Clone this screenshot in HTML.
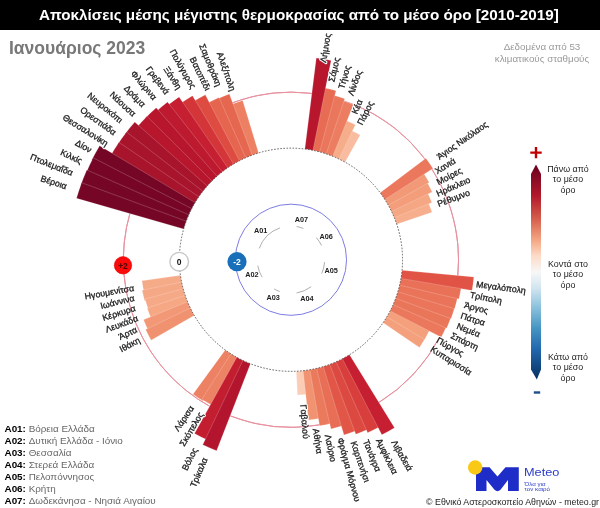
<!DOCTYPE html>
<html lang="el"><head><meta charset="utf-8"><title>Αποκλίσεις μέσης μέγιστης θερμοκρασίας</title>
<style>
html,body{margin:0;padding:0;background:#fff}
body{width:600px;height:508px;position:relative;overflow:hidden;font-family:"Liberation Sans","DejaVu Sans",sans-serif}
svg text{font-family:"Liberation Sans","DejaVu Sans",sans-serif}
.bar{position:absolute;left:0;top:0;width:600px;height:30px;background:#000}
.title{position:absolute;left:39px;top:0;height:30px;line-height:30.5px;color:#fff;font-weight:bold;font-size:14.1px;white-space:nowrap;transform-origin:0 0;transform:scaleX(1.082)}
.month{position:absolute;left:9px;top:36px;font-size:17.5px;font-weight:bold;color:#787878;white-space:nowrap;line-height:24px}
.src{position:absolute;left:482px;top:40.6px;width:120px;text-align:center;font-size:9.8px;line-height:12.2px;color:#9a9a9a}
.lt{position:absolute;width:80px;text-align:center;font-size:8.9px;line-height:10.4px;color:#222}
.leg{position:absolute;left:4.5px;top:423px;font-size:9.9px;line-height:12px;color:#666;white-space:nowrap}
.leg b{color:#000}
.copy{position:absolute;right:1px;top:496.3px;font-size:8.8px;line-height:12px;color:#222;white-space:nowrap}
.meteo{position:absolute;left:523.8px;top:463.6px;font-size:11.7px;line-height:16px;color:#2a3cc8;transform-origin:0 0;transform:scaleX(1.09)}
.tag{position:absolute;left:524.5px;top:480.6px;font-size:6.2px;line-height:5.5px;color:#2a3cc8;white-space:nowrap}
</style></head><body>
<div class="bar"></div>
<div class="title">Αποκλίσεις μέσης μέγιστης θερμοκρασίας από το μέσο όρο [2010-2019]</div>
<div class="month">Ιανουάριος 2023</div>
<div class="src">Δεδομένα από 53<br>κλιματικούς σταθμούς</div>
<svg width="600" height="508" viewBox="0 0 600 508" style="position:absolute;left:0;top:0"><circle cx="290.95" cy="259.75" r="167.6" fill="none" stroke="#e8919f" stroke-width="1"/><circle cx="290.95" cy="259.75" r="55.599999999999994" fill="none" stroke="#7d7de3" stroke-width="1"/><g stroke="#ffffff" stroke-opacity="0.22" stroke-width="0.9" stroke-linejoin="round"><path d="M337.77 158.45L350.81 130.23A142.68 142.68 0 0 1 360.20 135.00L345.11 162.18A111.60 111.60 0 0 0 337.77 158.45Z" fill="#f9bca0"/><path d="M331.45 155.76L345.26 120.27A149.68 149.68 0 0 1 355.40 124.66L339.01 159.03A111.60 111.60 0 0 0 331.45 155.76Z" fill="#f6ad8a"/><path d="M324.97 153.46L341.95 100.39A167.32 167.32 0 0 1 353.57 104.59L332.71 156.26A111.60 111.60 0 0 0 324.97 153.46Z" fill="#ec7d60"/><path d="M318.36 151.57L332.66 95.11A169.84 169.84 0 0 1 344.69 98.64L326.26 153.88A111.60 111.60 0 0 0 318.36 151.57Z" fill="#ea765b"/><path d="M311.65 150.09L323.41 87.77A175.02 175.02 0 0 1 336.01 90.63L319.68 151.91A111.60 111.60 0 0 0 311.65 150.09Z" fill="#e76c53"/><path d="M304.86 149.02L316.29 58.03A203.30 203.30 0 0 1 331.09 60.45L312.99 150.35A111.60 111.60 0 0 0 304.86 149.02Z" fill="#b7162d"/><path d="M393.80 216.43L428.12 201.97A148.84 148.84 0 0 1 432.01 212.25L396.71 224.13A111.60 111.60 0 0 0 393.80 216.43Z" fill="#f7ae8d"/><path d="M390.94 210.18L427.31 192.15A152.20 152.20 0 0 1 431.93 202.39L394.32 217.69A111.60 111.60 0 0 0 390.94 210.18Z" fill="#f5a784"/><path d="M387.70 204.12L426.78 181.65A156.68 156.68 0 0 1 432.17 191.88L391.54 211.41A111.60 111.60 0 0 0 387.70 204.12Z" fill="#f39d7b"/><path d="M384.09 198.27L423.11 172.51A158.36 158.36 0 0 1 429.19 182.49L388.37 205.30A111.60 111.60 0 0 0 384.09 198.27Z" fill="#f29a78"/><path d="M380.13 192.65L425.90 158.21A168.89 168.89 0 0 1 433.02 168.44L384.83 199.41A111.60 111.60 0 0 0 380.13 192.65Z" fill="#eb785c"/><path d="M387.50 315.72L425.53 337.77A155.56 155.56 0 0 1 419.41 347.48L383.11 322.69A111.60 111.60 0 0 0 387.50 315.72Z" fill="#f4a07d"/><path d="M390.76 309.67L430.08 329.33A155.56 155.56 0 0 1 424.57 339.40L386.81 316.89A111.60 111.60 0 0 0 390.76 309.67Z" fill="#f4a07d"/><path d="M393.65 303.43L446.60 325.95A169.14 169.14 0 0 1 441.29 337.25L390.15 310.88A111.60 111.60 0 0 0 393.65 303.43Z" fill="#eb785c"/><path d="M396.14 297.02L451.30 316.57A170.12 170.12 0 0 1 446.67 328.24L393.11 304.68A111.60 111.60 0 0 0 396.14 297.02Z" fill="#ea765a"/><path d="M398.24 290.48L454.90 306.71A170.54 170.54 0 0 1 450.99 318.67L395.68 298.31A111.60 111.60 0 0 0 398.24 290.48Z" fill="#ea755a"/><path d="M399.92 283.82L457.75 296.59A170.82 170.82 0 0 1 454.58 308.79L397.85 291.79A111.60 111.60 0 0 0 399.92 283.82Z" fill="#ea7459"/><path d="M401.20 277.06L461.36 286.51A172.50 172.50 0 0 1 458.92 299.00L399.62 285.14A111.60 111.60 0 0 0 401.20 277.06Z" fill="#e97157"/><path d="M402.06 270.24L473.84 277.02A183.70 183.70 0 0 1 472.06 290.46L400.98 278.41A111.60 111.60 0 0 0 402.06 270.24Z" fill="#e05345"/><path d="M304.47 370.53L307.35 394.15A135.40 135.40 0 0 1 297.40 395.00L296.26 371.22A111.60 111.60 0 0 0 304.47 370.53Z" fill="#fbcdb6"/><path d="M311.26 369.49L320.29 418.22A161.16 161.16 0 0 1 308.52 419.95L303.12 370.68A111.60 111.60 0 0 0 311.26 369.49Z" fill="#f19271"/><path d="M317.98 368.03L331.75 423.17A168.44 168.44 0 0 1 319.59 425.74L309.92 369.73A111.60 111.60 0 0 0 317.98 368.03Z" fill="#eb7a5d"/><path d="M324.60 366.16L343.38 425.56A173.90 173.90 0 0 1 331.01 428.97L316.66 368.35A111.60 111.60 0 0 0 324.60 366.16Z" fill="#e86e55"/><path d="M331.08 363.88L356.76 430.51A183.00 183.00 0 0 1 343.99 434.90L323.29 366.56A111.60 111.60 0 0 0 331.08 363.88Z" fill="#e15646"/><path d="M337.42 361.22L368.49 429.06A186.22 186.22 0 0 1 355.79 434.32L329.81 364.37A111.60 111.60 0 0 0 337.42 361.22Z" fill="#dc4941"/><path d="M343.58 358.16L380.15 426.56A189.16 189.16 0 0 1 367.60 432.68L336.17 361.78A111.60 111.60 0 0 0 343.58 358.16Z" fill="#d83e3c"/><path d="M349.53 354.74L394.51 427.66A197.28 197.28 0 0 1 381.85 434.84L342.37 358.80A111.60 111.60 0 0 0 349.53 354.74Z" fill="#c61f31"/><path d="M232.03 354.53L203.14 401.02A166.34 166.34 0 0 1 192.96 394.16L225.20 349.93A111.60 111.60 0 0 0 232.03 354.53Z" fill="#ed8163"/><path d="M237.98 357.98L212.33 405.54A165.64 165.64 0 0 1 201.79 399.35L230.88 353.80A111.60 111.60 0 0 0 237.98 357.98Z" fill="#ed8365"/><path d="M244.13 361.05L207.59 440.10A198.68 198.68 0 0 1 194.52 433.46L236.79 357.32A111.60 111.60 0 0 0 244.13 361.05Z" fill="#c31d30"/><path d="M250.45 363.74L216.62 450.63A204.84 204.84 0 0 1 202.75 444.63L242.89 360.47A111.60 111.60 0 0 0 250.45 363.74Z" fill="#b2152d"/><path d="M181.89 283.43L143.86 291.69A150.52 150.52 0 0 1 141.90 280.76L180.44 275.33A111.60 111.60 0 0 0 181.89 283.43Z" fill="#f6ab88"/><path d="M183.56 290.10L144.76 301.07A151.92 151.92 0 0 1 142.11 290.18L181.61 282.10A111.60 111.60 0 0 0 183.56 290.10Z" fill="#f5a885"/><path d="M185.63 296.66L148.37 309.71A151.08 151.08 0 0 1 145.07 299.06L183.19 288.79A111.60 111.60 0 0 0 185.63 296.66Z" fill="#f6a986"/><path d="M188.10 303.07L151.20 318.61A151.64 151.64 0 0 1 147.24 308.15L185.19 295.37A111.60 111.60 0 0 0 188.10 303.07Z" fill="#f6a885"/><path d="M190.96 309.32L148.32 330.46A159.20 159.20 0 0 1 143.49 319.75L187.58 301.81A111.60 111.60 0 0 0 190.96 309.32Z" fill="#f29876"/><path d="M194.20 315.38L151.12 340.16A161.30 161.30 0 0 1 145.57 329.62L190.36 308.09A111.60 111.60 0 0 0 194.20 315.38Z" fill="#f09170"/><path d="M250.82 155.62L231.08 104.41A166.48 166.48 0 0 1 242.70 100.42L258.61 152.94A111.60 111.60 0 0 0 250.82 155.62Z" fill="#ed8063"/><path d="M244.48 158.28L217.32 98.97A176.84 176.84 0 0 1 229.38 93.98L252.09 155.13A111.60 111.60 0 0 0 244.48 158.28Z" fill="#e66750"/><path d="M238.32 161.34L207.30 103.31A177.40 177.40 0 0 1 219.06 97.57L245.73 157.72A111.60 111.60 0 0 0 238.32 161.34Z" fill="#e5654f"/><path d="M232.37 164.76L193.41 101.61A185.80 185.80 0 0 1 205.34 94.85L239.53 160.70A111.60 111.60 0 0 0 232.37 164.76Z" fill="#dd4b41"/><path d="M226.63 168.55L180.64 103.34A191.40 191.40 0 0 1 192.47 95.63L233.53 164.05A111.60 111.60 0 0 0 226.63 168.55Z" fill="#d33539"/><path d="M221.14 172.68L167.36 105.62A197.56 197.56 0 0 1 179.07 96.92L227.75 167.77A111.60 111.60 0 0 0 221.14 172.68Z" fill="#c61f31"/><path d="M215.91 177.15L156.23 111.45A200.36 200.36 0 0 1 167.53 101.91L222.21 171.84A111.60 111.60 0 0 0 215.91 177.15Z" fill="#be1a2f"/><path d="M210.97 181.92L145.35 118.07A203.16 203.16 0 0 1 156.19 107.72L216.92 176.23A111.60 111.60 0 0 0 210.97 181.92Z" fill="#b7162d"/><path d="M206.33 186.99L136.90 127.30A203.16 203.16 0 0 1 147.09 116.30L211.92 180.95A111.60 111.60 0 0 0 206.33 186.99Z" fill="#b7162d"/><path d="M202.01 192.34L125.02 133.99A208.20 208.20 0 0 1 134.75 122.10L207.22 185.96A111.60 111.60 0 0 0 202.01 192.34Z" fill="#a8142c"/><path d="M198.03 197.94L117.59 144.44A208.20 208.20 0 0 1 126.57 131.97L202.84 191.26A111.60 111.60 0 0 0 198.03 197.94Z" fill="#a8142c"/><path d="M194.40 203.78L110.83 155.34A208.20 208.20 0 0 1 119.02 142.34L198.79 196.81A111.60 111.60 0 0 0 194.40 203.78Z" fill="#a8142c"/><path d="M191.14 209.83L91.72 160.11A222.76 222.76 0 0 1 99.61 145.69L195.09 202.61A111.60 111.60 0 0 0 191.14 209.83Z" fill="#760626"/><path d="M188.25 216.07L86.22 172.67A222.48 222.48 0 0 1 93.20 157.81L191.75 208.62A111.60 111.60 0 0 0 188.25 216.07Z" fill="#770626"/><path d="M185.76 222.48L80.72 185.25A223.04 223.04 0 0 1 86.79 169.95L188.79 214.82A111.60 111.60 0 0 0 185.76 222.48Z" fill="#750626"/><path d="M183.66 229.02L76.53 198.34A223.04 223.04 0 0 1 81.64 182.69L186.22 221.19A111.60 111.60 0 0 0 183.66 229.02Z" fill="#750626"/></g><circle cx="290.95" cy="259.75" r="111.6" fill="none" stroke="#333" stroke-width="0.75" stroke-dasharray="1.6 1.5"/><path d="M259.22 248.39A33.7 33.7 0 0 1 279.98 227.89" fill="none" stroke="#9a9a9a" stroke-width="0.8"/><text x="260.70" y="230.30" text-anchor="middle" dominant-baseline="central" font-size="7.3" font-weight="bold" fill="#222">A01</text><path d="M296.63 226.53A33.7 33.7 0 0 1 303.36 228.42" fill="none" stroke="#9a9a9a" stroke-width="0.8"/><text x="301.50" y="219.30" text-anchor="middle" dominant-baseline="central" font-size="7.3" font-weight="bold" fill="#222">A07</text><path d="M316.31 237.55A33.7 33.7 0 0 1 321.52 245.56" fill="none" stroke="#9a9a9a" stroke-width="0.8"/><text x="326.10" y="236.60" text-anchor="middle" dominant-baseline="central" font-size="7.3" font-weight="bold" fill="#222">A06</text><path d="M324.56 262.16A33.7 33.7 0 0 1 321.71 273.51" fill="none" stroke="#9a9a9a" stroke-width="0.8"/><text x="331.20" y="270.00" text-anchor="middle" dominant-baseline="central" font-size="7.3" font-weight="bold" fill="#222">A05</text><path d="M311.18 286.70A33.7 33.7 0 0 1 296.57 292.98" fill="none" stroke="#9a9a9a" stroke-width="0.8"/><text x="307.00" y="298.00" text-anchor="middle" dominant-baseline="central" font-size="7.3" font-weight="bold" fill="#222">A04</text><path d="M279.76 291.54A33.7 33.7 0 0 1 274.15 288.96" fill="none" stroke="#9a9a9a" stroke-width="0.8"/><text x="273.10" y="297.00" text-anchor="middle" dominant-baseline="central" font-size="7.3" font-weight="bold" fill="#222">A03</text><path d="M262.09 277.16A33.7 33.7 0 0 1 257.76 265.60" fill="none" stroke="#9a9a9a" stroke-width="0.8"/><text x="251.90" y="274.00" text-anchor="middle" dominant-baseline="central" font-size="7.3" font-weight="bold" fill="#222">A02</text><g font-size="8.85" fill="#fff" stroke="#fff" stroke-width="2.4" stroke-linejoin="round"><text x="323.15" y="62.56" text-anchor="start" dominant-baseline="central" transform="rotate(-80.73 323.15 62.56)">Λήμνος</text><text x="331.40" y="81.77" text-anchor="start" dominant-baseline="central" transform="rotate(-77.20 331.40 81.77)">Σάμος</text><text x="341.10" y="88.61" text-anchor="start" dominant-baseline="central" transform="rotate(-73.67 341.10 88.61)">Τήνος</text><text x="350.35" y="95.33" text-anchor="start" dominant-baseline="central" transform="rotate(-70.14 350.35 95.33)">Λίνδος</text><text x="354.15" y="113.65" text-anchor="start" dominant-baseline="central" transform="rotate(-66.61 354.15 113.65)">Κέα</text><text x="359.62" y="124.51" text-anchor="start" dominant-baseline="central" transform="rotate(-63.08 359.62 124.51)">Πάρος</text><text x="437.77" y="157.54" text-anchor="start" dominant-baseline="central" transform="rotate(-34.84 437.77 157.54)">Άγιος Νικόλαος</text><text x="435.64" y="171.73" text-anchor="start" dominant-baseline="central" transform="rotate(-31.31 435.64 171.73)">Χανιά</text><text x="437.17" y="182.70" text-anchor="start" dominant-baseline="central" transform="rotate(-27.79 437.17 182.70)">Μοίρες</text><text x="436.73" y="194.06" text-anchor="start" dominant-baseline="central" transform="rotate(-24.26 436.73 194.06)">Ηράκλειο</text><text x="437.73" y="204.21" text-anchor="start" dominant-baseline="central" transform="rotate(-20.73 437.73 204.21)">Ρέθυμνο</text><text x="476.25" y="284.17" text-anchor="start" dominant-baseline="central" transform="rotate(7.51 476.25 284.17)">Μεγαλόπολη</text><text x="470.07" y="294.69" text-anchor="start" dominant-baseline="central" transform="rotate(11.04 470.07 294.69)">Τρίπολη</text><text x="464.41" y="304.83" text-anchor="start" dominant-baseline="central" transform="rotate(14.57 464.41 304.83)">Άργος</text><text x="460.94" y="315.30" text-anchor="start" dominant-baseline="central" transform="rotate(18.10 460.94 315.30)">Πάτρα</text><text x="457.09" y="325.62" text-anchor="start" dominant-baseline="central" transform="rotate(21.63 457.09 325.62)">Νεμέα</text><text x="451.29" y="335.05" text-anchor="start" dominant-baseline="central" transform="rotate(25.16 451.29 335.05)">Σπάρτη</text><text x="437.07" y="339.70" text-anchor="start" dominant-baseline="central" transform="rotate(28.69 437.07 339.70)">Πύργος</text><text x="431.36" y="348.22" text-anchor="start" dominant-baseline="central" transform="rotate(32.21 431.36 348.22)">Κυπαρισσία</text><text x="393.57" y="440.76" text-anchor="start" dominant-baseline="central" transform="rotate(60.45 393.57 440.76)">Λιβαδειά</text><text x="378.41" y="438.90" text-anchor="start" dominant-baseline="central" transform="rotate(63.98 378.41 438.90)">Αμφίκλεια</text><text x="365.63" y="440.12" text-anchor="start" dominant-baseline="central" transform="rotate(67.51 365.63 440.12)">Τανάγρα</text><text x="353.40" y="441.52" text-anchor="start" dominant-baseline="central" transform="rotate(71.04 353.40 441.52)">Καρπενήσι</text><text x="340.15" y="437.98" text-anchor="start" dominant-baseline="central" transform="rotate(74.57 340.15 437.98)">Φράγμα Μόρνου</text><text x="327.80" y="434.55" text-anchor="start" dominant-baseline="central" transform="rotate(78.10 327.80 434.55)">Λαύριο</text><text x="315.82" y="428.69" text-anchor="start" dominant-baseline="central" transform="rotate(81.63 315.82 428.69)">Αθήνα</text><text x="303.23" y="404.63" text-anchor="start" dominant-baseline="central" transform="rotate(85.16 303.23 404.63)">Γαβαλού</text><text x="205.10" y="458.22" text-anchor="end" dominant-baseline="central" transform="rotate(-66.61 205.10 458.22)">Τρίκαλα</text><text x="195.20" y="448.31" text-anchor="end" dominant-baseline="central" transform="rotate(-63.08 195.20 448.31)">Βόλος</text><text x="201.03" y="412.72" text-anchor="end" dominant-baseline="central" transform="rotate(-59.55 201.03 412.72)">Σκόπελος</text><text x="192.00" y="406.56" text-anchor="end" dominant-baseline="central" transform="rotate(-56.02 192.00 406.56)">Λάρισα</text><text x="139.49" y="339.56" text-anchor="end" dominant-baseline="central" transform="rotate(-27.79 139.49 339.56)">Ιθάκη</text><text x="136.69" y="329.26" text-anchor="end" dominant-baseline="central" transform="rotate(-24.26 136.69 329.26)">Άρτα</text><text x="137.62" y="317.77" text-anchor="end" dominant-baseline="central" transform="rotate(-20.73 137.62 317.77)">Λευκάδα</text><text x="135.35" y="307.91" text-anchor="end" dominant-baseline="central" transform="rotate(-17.20 135.35 307.91)">Κέρκυρα</text><text x="134.30" y="297.84" text-anchor="end" dominant-baseline="central" transform="rotate(-13.67 134.30 297.84)">Ιωάννινα</text><text x="133.92" y="287.83" text-anchor="end" dominant-baseline="central" transform="rotate(-10.14 133.92 287.83)">Ηγουμενίτσα</text><text x="66.59" y="186.43" text-anchor="end" dominant-baseline="central" transform="rotate(18.10 66.59 186.43)">Βέροια</text><text x="72.64" y="173.20" text-anchor="end" dominant-baseline="central" transform="rotate(21.63 72.64 173.20)">Πτολεμαΐδα</text><text x="81.70" y="161.48" text-anchor="end" dominant-baseline="central" transform="rotate(25.16 81.70 161.48)">Κιλκίς</text><text x="91.14" y="150.43" text-anchor="end" dominant-baseline="central" transform="rotate(28.69 91.14 150.43)">Δίον</text><text x="107.36" y="144.07" text-anchor="end" dominant-baseline="central" transform="rotate(32.21 107.36 144.07)">Θεσσαλονίκη</text><text x="115.23" y="133.28" text-anchor="end" dominant-baseline="central" transform="rotate(35.74 115.23 133.28)">Ορεστιάδα</text><text x="121.49" y="121.18" text-anchor="end" dominant-baseline="central" transform="rotate(39.27 121.49 121.18)">Νευροκόπι</text><text x="134.56" y="114.91" text-anchor="end" dominant-baseline="central" transform="rotate(42.80 134.56 114.91)">Νάουσα</text><text x="143.84" y="105.63" text-anchor="end" dominant-baseline="central" transform="rotate(46.33 143.84 105.63)">Δράμα</text><text x="155.09" y="98.63" text-anchor="end" dominant-baseline="central" transform="rotate(49.86 155.09 98.63)">Φλώρινα</text><text x="167.35" y="93.38" text-anchor="end" dominant-baseline="central" transform="rotate(53.39 167.35 93.38)">Γρεβενά</text><text x="179.39" y="88.48" text-anchor="end" dominant-baseline="central" transform="rotate(56.92 179.39 88.48)">Ξάνθη</text><text x="193.60" y="88.03" text-anchor="end" dominant-baseline="central" transform="rotate(60.45 193.60 88.03)">Πολύγυρος</text><text x="208.08" y="90.00" text-anchor="end" dominant-baseline="central" transform="rotate(63.98 208.08 90.00)">Βατοπέδι</text><text x="219.02" y="86.01" text-anchor="end" dominant-baseline="central" transform="rotate(67.51 219.02 86.01)">Σαμοθράκη</text><text x="232.89" y="90.77" text-anchor="end" dominant-baseline="central" transform="rotate(71.04 232.89 90.77)">Αλεξ/πολη</text></g><g fill="none" stroke="#e8919f" stroke-width="1"><path d="M354.08 104.49A167.60 167.60 0 0 1 424.61 158.63"/><path d="M432.18 169.50A167.60 167.60 0 0 1 457.85 275.07"/><path d="M439.72 336.93A167.60 167.60 0 0 1 379.30 402.17"/><path d="M319.01 424.98A167.60 167.60 0 0 1 230.54 416.09"/><path d="M209.22 406.07A167.60 167.60 0 0 1 129.71 214.02"/><path d="M233.01 102.49A167.60 167.60 0 0 1 311.40 93.40"/></g><g font-size="8.85" fill="#1c1c1c" stroke="#1c1c1c" stroke-width="0.3"><text x="323.15" y="62.56" text-anchor="start" dominant-baseline="central" transform="rotate(-80.73 323.15 62.56)">Λήμνος</text><text x="331.40" y="81.77" text-anchor="start" dominant-baseline="central" transform="rotate(-77.20 331.40 81.77)">Σάμος</text><text x="341.10" y="88.61" text-anchor="start" dominant-baseline="central" transform="rotate(-73.67 341.10 88.61)">Τήνος</text><text x="350.35" y="95.33" text-anchor="start" dominant-baseline="central" transform="rotate(-70.14 350.35 95.33)">Λίνδος</text><text x="354.15" y="113.65" text-anchor="start" dominant-baseline="central" transform="rotate(-66.61 354.15 113.65)">Κέα</text><text x="359.62" y="124.51" text-anchor="start" dominant-baseline="central" transform="rotate(-63.08 359.62 124.51)">Πάρος</text><text x="437.77" y="157.54" text-anchor="start" dominant-baseline="central" transform="rotate(-34.84 437.77 157.54)">Άγιος Νικόλαος</text><text x="435.64" y="171.73" text-anchor="start" dominant-baseline="central" transform="rotate(-31.31 435.64 171.73)">Χανιά</text><text x="437.17" y="182.70" text-anchor="start" dominant-baseline="central" transform="rotate(-27.79 437.17 182.70)">Μοίρες</text><text x="436.73" y="194.06" text-anchor="start" dominant-baseline="central" transform="rotate(-24.26 436.73 194.06)">Ηράκλειο</text><text x="437.73" y="204.21" text-anchor="start" dominant-baseline="central" transform="rotate(-20.73 437.73 204.21)">Ρέθυμνο</text><text x="476.25" y="284.17" text-anchor="start" dominant-baseline="central" transform="rotate(7.51 476.25 284.17)">Μεγαλόπολη</text><text x="470.07" y="294.69" text-anchor="start" dominant-baseline="central" transform="rotate(11.04 470.07 294.69)">Τρίπολη</text><text x="464.41" y="304.83" text-anchor="start" dominant-baseline="central" transform="rotate(14.57 464.41 304.83)">Άργος</text><text x="460.94" y="315.30" text-anchor="start" dominant-baseline="central" transform="rotate(18.10 460.94 315.30)">Πάτρα</text><text x="457.09" y="325.62" text-anchor="start" dominant-baseline="central" transform="rotate(21.63 457.09 325.62)">Νεμέα</text><text x="451.29" y="335.05" text-anchor="start" dominant-baseline="central" transform="rotate(25.16 451.29 335.05)">Σπάρτη</text><text x="437.07" y="339.70" text-anchor="start" dominant-baseline="central" transform="rotate(28.69 437.07 339.70)">Πύργος</text><text x="431.36" y="348.22" text-anchor="start" dominant-baseline="central" transform="rotate(32.21 431.36 348.22)">Κυπαρισσία</text><text x="393.57" y="440.76" text-anchor="start" dominant-baseline="central" transform="rotate(60.45 393.57 440.76)">Λιβαδειά</text><text x="378.41" y="438.90" text-anchor="start" dominant-baseline="central" transform="rotate(63.98 378.41 438.90)">Αμφίκλεια</text><text x="365.63" y="440.12" text-anchor="start" dominant-baseline="central" transform="rotate(67.51 365.63 440.12)">Τανάγρα</text><text x="353.40" y="441.52" text-anchor="start" dominant-baseline="central" transform="rotate(71.04 353.40 441.52)">Καρπενήσι</text><text x="340.15" y="437.98" text-anchor="start" dominant-baseline="central" transform="rotate(74.57 340.15 437.98)">Φράγμα Μόρνου</text><text x="327.80" y="434.55" text-anchor="start" dominant-baseline="central" transform="rotate(78.10 327.80 434.55)">Λαύριο</text><text x="315.82" y="428.69" text-anchor="start" dominant-baseline="central" transform="rotate(81.63 315.82 428.69)">Αθήνα</text><text x="303.23" y="404.63" text-anchor="start" dominant-baseline="central" transform="rotate(85.16 303.23 404.63)">Γαβαλού</text><text x="205.10" y="458.22" text-anchor="end" dominant-baseline="central" transform="rotate(-66.61 205.10 458.22)">Τρίκαλα</text><text x="195.20" y="448.31" text-anchor="end" dominant-baseline="central" transform="rotate(-63.08 195.20 448.31)">Βόλος</text><text x="201.03" y="412.72" text-anchor="end" dominant-baseline="central" transform="rotate(-59.55 201.03 412.72)">Σκόπελος</text><text x="192.00" y="406.56" text-anchor="end" dominant-baseline="central" transform="rotate(-56.02 192.00 406.56)">Λάρισα</text><text x="139.49" y="339.56" text-anchor="end" dominant-baseline="central" transform="rotate(-27.79 139.49 339.56)">Ιθάκη</text><text x="136.69" y="329.26" text-anchor="end" dominant-baseline="central" transform="rotate(-24.26 136.69 329.26)">Άρτα</text><text x="137.62" y="317.77" text-anchor="end" dominant-baseline="central" transform="rotate(-20.73 137.62 317.77)">Λευκάδα</text><text x="135.35" y="307.91" text-anchor="end" dominant-baseline="central" transform="rotate(-17.20 135.35 307.91)">Κέρκυρα</text><text x="134.30" y="297.84" text-anchor="end" dominant-baseline="central" transform="rotate(-13.67 134.30 297.84)">Ιωάννινα</text><text x="133.92" y="287.83" text-anchor="end" dominant-baseline="central" transform="rotate(-10.14 133.92 287.83)">Ηγουμενίτσα</text><text x="66.59" y="186.43" text-anchor="end" dominant-baseline="central" transform="rotate(18.10 66.59 186.43)">Βέροια</text><text x="72.64" y="173.20" text-anchor="end" dominant-baseline="central" transform="rotate(21.63 72.64 173.20)">Πτολεμαΐδα</text><text x="81.70" y="161.48" text-anchor="end" dominant-baseline="central" transform="rotate(25.16 81.70 161.48)">Κιλκίς</text><text x="91.14" y="150.43" text-anchor="end" dominant-baseline="central" transform="rotate(28.69 91.14 150.43)">Δίον</text><text x="107.36" y="144.07" text-anchor="end" dominant-baseline="central" transform="rotate(32.21 107.36 144.07)">Θεσσαλονίκη</text><text x="115.23" y="133.28" text-anchor="end" dominant-baseline="central" transform="rotate(35.74 115.23 133.28)">Ορεστιάδα</text><text x="121.49" y="121.18" text-anchor="end" dominant-baseline="central" transform="rotate(39.27 121.49 121.18)">Νευροκόπι</text><text x="134.56" y="114.91" text-anchor="end" dominant-baseline="central" transform="rotate(42.80 134.56 114.91)">Νάουσα</text><text x="143.84" y="105.63" text-anchor="end" dominant-baseline="central" transform="rotate(46.33 143.84 105.63)">Δράμα</text><text x="155.09" y="98.63" text-anchor="end" dominant-baseline="central" transform="rotate(49.86 155.09 98.63)">Φλώρινα</text><text x="167.35" y="93.38" text-anchor="end" dominant-baseline="central" transform="rotate(53.39 167.35 93.38)">Γρεβενά</text><text x="179.39" y="88.48" text-anchor="end" dominant-baseline="central" transform="rotate(56.92 179.39 88.48)">Ξάνθη</text><text x="193.60" y="88.03" text-anchor="end" dominant-baseline="central" transform="rotate(60.45 193.60 88.03)">Πολύγυρος</text><text x="208.08" y="90.00" text-anchor="end" dominant-baseline="central" transform="rotate(63.98 208.08 90.00)">Βατοπέδι</text><text x="219.02" y="86.01" text-anchor="end" dominant-baseline="central" transform="rotate(67.51 219.02 86.01)">Σαμοθράκη</text><text x="232.89" y="90.77" text-anchor="end" dominant-baseline="central" transform="rotate(71.04 232.89 90.77)">Αλεξ/πολη</text></g><circle cx="123" cy="265.3" r="8.7" fill="#fa0a0a" stroke="#e60000" stroke-width="0.6"/><text x="123" y="265.6" text-anchor="middle" dominant-baseline="central" font-size="8.5" font-weight="bold" fill="#4a0000">+2</text><circle cx="179.2" cy="261.7" r="9.3" fill="#fff" stroke="#c6c6c6" stroke-width="1.4"/><text x="179" y="262" text-anchor="middle" dominant-baseline="central" font-size="8.5" font-weight="bold" fill="#111">0</text><circle cx="237" cy="261.7" r="9.6" fill="#1a6fb9"/><text x="237" y="262" text-anchor="middle" dominant-baseline="central" font-size="8.5" font-weight="bold" fill="#fff">-2</text><defs><linearGradient id="lg" x1="0" y1="0" x2="0" y2="1">
<stop offset="0.0000" stop-color="#67001f"/><stop offset="0.1450" stop-color="#b2182b"/><stop offset="0.2550" stop-color="#d6604d"/><stop offset="0.3500" stop-color="#f4a582"/><stop offset="0.4250" stop-color="#fddbc7"/><stop offset="0.5000" stop-color="#f7f7f7"/><stop offset="0.5750" stop-color="#d1e5f0"/><stop offset="0.6550" stop-color="#92c5de"/><stop offset="0.7650" stop-color="#4393c3"/><stop offset="0.8625" stop-color="#2166ac"/><stop offset="1.0000" stop-color="#053061"/>
</linearGradient></defs><path d="M536 164.5L541 174L541 369.5L536.8 379.6L531 369.5L531 174Z" fill="url(#lg)"/><path d="M530.3 152.6h11.4M536 146.9v11.4" stroke="#c00000" stroke-width="2.4" fill="none"/><path d="M533.8 392.5h6.4" stroke="#1f4e8c" stroke-width="2.4" fill="none"/></svg>
<div class="lt" style="left:528px;top:164px">Πάνω από<br>το μέσο<br>όρο</div>
<div class="lt" style="left:528px;top:259px">Κοντά στο<br>το μέσο<br>όρο</div>
<div class="lt" style="left:528px;top:352px">Κάτω από<br>το μέσο<br>όρο</div>
<div class="leg"><b>A01:</b> Βόρεια Ελλάδα<br><b>A02:</b> Δυτική Ελλάδα - Ιόνιο<br><b>A03:</b> Θεσσαλία<br><b>A04:</b> Στερεά Ελλάδα<br><b>A05:</b> Πελοπόννησος<br><b>A06:</b> Κρήτη<br><b>A07:</b> Δωδεκάνησα - Νησιά Αιγαίου</div>
<svg width="70" height="50" viewBox="0 0 70 50" style="position:absolute;left:460px;top:450px">
<path d="M16.00 17.20L29.50 17.20L37.50 26.50L45.50 17.20L58.80 17.20L58.80 41.00L48.00 41.00L48.00 30.00L40.50 39.80Q37.50 42.50 34.50 39.80L26.50 30.00L26.50 41.00L16.00 41.00Z" fill="#1e2cc8"/>
<circle cx="15.2" cy="17.5" r="7.2" fill="#fac916"/>
</svg>
<div class="meteo">Meteo</div>
<div class="tag">Όλα για<br>τον καιρό</div>
<div class="copy">© Εθνικό Αστεροσκοπείο Αθηνών - meteo.gr</div>
</body></html>
